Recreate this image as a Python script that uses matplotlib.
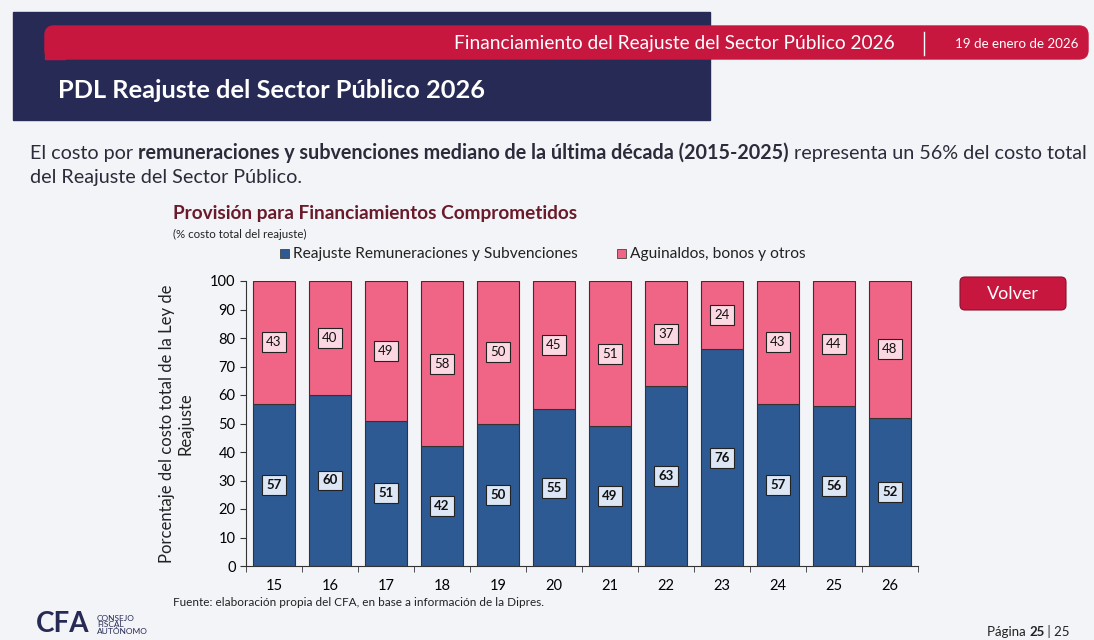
import matplotlib.pyplot as plt
import numpy as np
from matplotlib.patches import Rectangle, FancyBboxPatch

plt.rcParams['font.family'] = ['Lato', 'DejaVu Sans']

# Data
years = ['15', '16', '17', '18', '19', '20', '21', '22', '23', '24', '25', '26']
reajuste = [57, 60, 51, 42, 50, 55, 49, 63, 76, 57, 56, 52]
aguinaldos = [43, 40, 49, 58, 50, 45, 51, 37, 24, 43, 44, 48]

blue = '#2e5a94'
pink = '#f06585'
red = '#c8173f'
navy = '#272a55'
txt_color = '#2b2b3a'

W, H = 1094, 640
fig = plt.figure(figsize=(W / 100, H / 100), dpi=100, facecolor='#f3f4f7')

# page decorations (pixel coords, y from top)
bg = fig.add_axes([0, 0, 1, 1])
bg.set_xlim(0, W)
bg.set_ylim(H, 0)
bg.axis('off')
fig.canvas.draw()
r = fig.canvas.get_renderer()


def after(prev, y, s, **kw):
    # put a text right after the previous one
    bb = prev.get_window_extent(r)
    xd = bg.transData.inverted().transform((bb.x1, 0))[0]
    return bg.text(xd, y, s, va='center', **kw)


bg.add_patch(Rectangle((13, 12), 697, 108, color=navy, zorder=1))
bg.add_patch(FancyBboxPatch((45, 26), 1043, 33, boxstyle='round,pad=0,rounding_size=9',
                            color=red, zorder=2))
bg.add_patch(Rectangle((45, 42), 20, 17, color=red, zorder=2))
bg.text(895, 44, 'Financiamiento del Reajuste del Sector Público 2026', color='white',
        fontsize=13.8, ha='right', va='center', zorder=3)
bg.plot([924, 924], [32, 55], color='white', lw=1, zorder=3)
bg.text(1078, 44, '19 de enero de 2026', color='white', fontsize=9.6, ha='right',
        va='center', zorder=3)
bg.text(58, 91, 'PDL Reajuste del Sector Público 2026', color='white', fontsize=18.3,
        fontweight='bold', ha='left', va='center', zorder=3)

# paragraph
fs = 14.2
t = bg.text(30, 153, 'El costo por ', fontsize=fs, color=txt_color, va='center')
t2 = after(t, 153, 'remuneraciones y subvenciones mediano de la última década (2015-2025)',
           fontsize=fs, color=txt_color, fontweight='bold')
after(t2, 153, ' representa un 56% del costo total', fontsize=fs, color=txt_color)
bg.text(30, 177, 'del Reajuste del Sector Público.', fontsize=fs, color=txt_color, va='center')

# chart titles
bg.text(173, 214, 'Provisión para Financiamientos Comprometidos', fontsize=13.7,
        fontweight='bold', color='#6b1a2a', va='center')
bg.text(173, 234, '(% costo total del reajuste)', fontsize=8.3, color='#222222', va='center')

# legend
bg.add_patch(Rectangle((280, 249), 9, 9, facecolor=blue, edgecolor='#444444', lw=0.6))
bg.text(293, 254, 'Reajuste Remuneraciones y Subvenciones', fontsize=11.2,
        color='#222222', va='center')
bg.add_patch(Rectangle((617, 249), 9, 9, facecolor=pink, edgecolor='#444444', lw=0.6))
bg.text(630, 254, 'Aguinaldos, bonos y otros', fontsize=11.2, color='#222222', va='center')

# volver button
bg.add_patch(FancyBboxPatch((960, 277), 106, 33, boxstyle='round,pad=0,rounding_size=5',
                            facecolor=red, edgecolor='#8a1030', lw=0.8))
bg.text(1013, 294, 'Volver', color='white', fontsize=13, ha='center', va='center')

# footer
bg.text(173, 603, 'Fuente: elaboración propia del CFA, en base a información de la Dipres.',
        fontsize=8.5, color='#222222', va='center')
bg.text(36, 624, 'CFA', fontsize=20, color=navy, va='center', fontweight='bold')
bg.text(97, 625, 'CONSEJO\nFISCAL\nAUTÓNOMO', fontsize=6, color=navy, va='center',
        linespacing=0.95)
pg = bg.text(987, 632, 'Página ', fontsize=9.5, color='#222222', va='center')
pg2 = after(pg, 632, '25', fontsize=9.5, color='#222222', fontweight='bold')
after(pg2, 632, ' | 25', fontsize=9.5, color='#222222')

# chart axes
ax = fig.add_axes([246 / W, (H - 566) / H, 672 / W, 285 / H])
ax.set_facecolor('none')
x = np.arange(len(years))
ax.bar(x, reajuste, width=0.75, color=blue, edgecolor='#333333', lw=0.8)
ax.bar(x, aguinaldos, width=0.75, bottom=reajuste, color=pink, edgecolor='#333333', lw=0.8)

for i in range(len(years)):
    ax.text(x[i], reajuste[i] / 2, str(reajuste[i]), ha='center', va='center', fontsize=9.5,
            fontweight='bold', color='#111111',
            bbox=dict(boxstyle='square,pad=0.3', facecolor='#dce6f4', edgecolor='#222222', lw=0.8))
    ax.text(x[i], reajuste[i] + aguinaldos[i] / 2, str(aguinaldos[i]), ha='center',
            va='center', fontsize=9.5, color='#111111',
            bbox=dict(boxstyle='square,pad=0.3', facecolor='#fcd8e2', edgecolor='#222222', lw=0.8))

ax.set_xlim(-0.5, len(years) - 0.5)
ax.set_ylim(0, 100)
ax.set_yticks(range(0, 101, 10))
ax.set_xticks(x)
ax.set_xticklabels(years)
ax.set_xticks(np.arange(-0.5, len(years), 1), minor=True)
ax.tick_params(axis='x', which='major', length=0, pad=9, labelsize=10.5)
ax.tick_params(axis='x', which='minor', length=4, direction='out', color='#333333')
ax.tick_params(axis='y', length=4, direction='out', labelsize=10.5, color='#333333')
for s in ['top', 'right']:
    ax.spines[s].set_visible(False)
for s in ['left', 'bottom']:
    ax.spines[s].set_color('#333333')
ax.set_ylabel('Porcentaje del costo total de la Ley de\nReajuste', fontsize=12,
              color='#222222', labelpad=12)

plt.savefig('out.png', dpi=100, facecolor=fig.get_facecolor())
